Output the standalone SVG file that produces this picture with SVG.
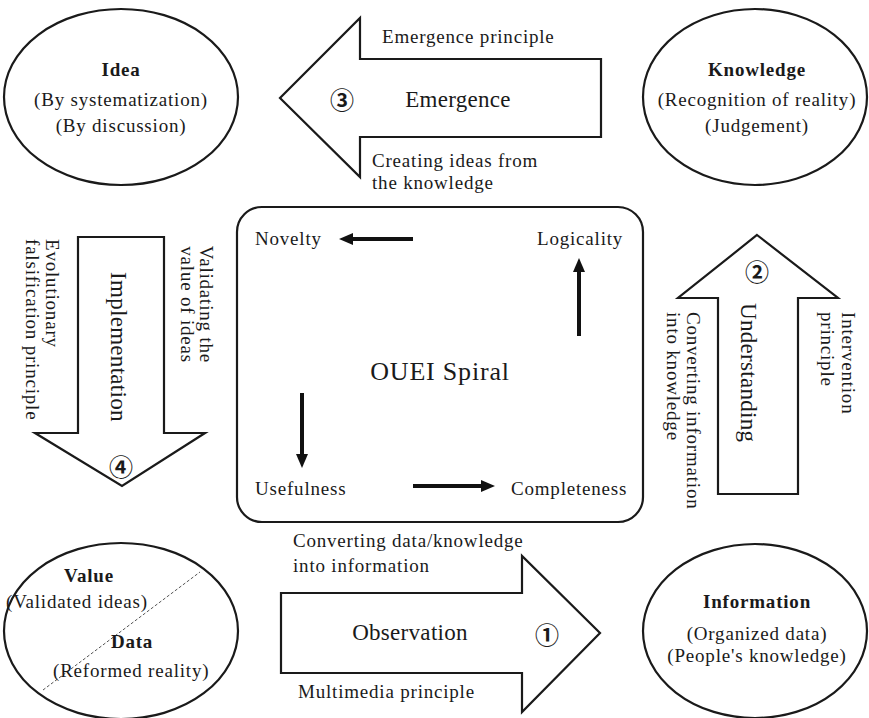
<svg xmlns="http://www.w3.org/2000/svg" width="869" height="718" viewBox="0 0 869 718">
  <style>
    .t { font-family: "Liberation Serif", "Times New Roman", serif; font-size: 19px; letter-spacing: 0.8px; fill: #1a1a1a; }
    .b { font-weight: bold; }
    .m { font-size: 23px; letter-spacing: 0.3px; }
    .big { font-size: 26px; letter-spacing: 0.8px; }
    .c { text-anchor: middle; }
    .e { text-anchor: end; }
    .n { font-family: "Noto Sans CJK JP", "DejaVu Sans", sans-serif; font-size: 24px; font-weight: bold; fill: #1a1a1a; text-anchor: middle; dominant-baseline: central; }
    .shape { fill: #ffffff; stroke: #1a1a1a; stroke-width: 2.2; stroke-linejoin: miter; }
    .flow { stroke: #111111; stroke-width: 4; fill: none; marker-end: url(#head); }
  </style>
  <defs>
    <marker id="head" markerUnits="userSpaceOnUse" markerWidth="14" markerHeight="12" refX="1" refY="6" orient="auto">
      <path d="M0,0 L14,6 L0,12 z" fill="#111111"/>
    </marker>
  </defs>

  <rect width="869" height="718" fill="#ffffff"/>

  <!-- Idea -->
  <g id="idea">
    <ellipse class="shape" cx="121" cy="97" rx="117" ry="88"/>
    <text class="t b c" x="121" y="76">Idea</text>
    <text class="t c" x="121" y="106">(By systematization)</text>
    <text class="t c" x="121" y="132">(By discussion)</text>
  </g>

  <!-- Knowledge -->
  <g id="knowledge">
    <ellipse class="shape" cx="755" cy="97" rx="112" ry="88"/>
    <text class="t b c" x="757" y="76">Knowledge</text>
    <text class="t c" x="757" y="106">(Recognition of reality)</text>
    <text class="t c" x="757" y="132">(Judgement)</text>
  </g>

  <!-- Value / Data -->
  <g id="value-data">
    <ellipse class="shape" cx="121" cy="631" rx="117" ry="88"/>
    <line x1="43" y1="690" x2="200" y2="572" stroke="#555555" stroke-width="1" stroke-dasharray="3 2"/>
    <text class="t b c" x="89" y="582">Value</text>
    <text class="t" x="6" y="608">(Validated ideas)</text>
    <text class="t b c" x="132" y="648">Data</text>
    <text class="t" x="53" y="677">(Reformed reality)</text>
  </g>

  <!-- Information -->
  <g id="information">
    <ellipse class="shape" cx="755" cy="631" rx="112" ry="87"/>
    <text class="t b c" x="757" y="608">Information</text>
    <text class="t c" x="757" y="640">(Organized data)</text>
    <text class="t c" x="757" y="662">(People's knowledge)</text>
  </g>

  <!-- OUEI spiral box -->
  <g id="spiral">
    <rect class="shape" x="237" y="207" width="406" height="315" rx="25" ry="25"/>
    <text class="t" x="255" y="245">Novelty</text>
    <text class="t" x="537" y="245">Logicality</text>
    <text class="t" x="255" y="495">Usefulness</text>
    <text class="t" x="511" y="495">Completeness</text>
    <text class="t big c" x="440" y="380">OUEI Spiral</text>
  </g>

  <!-- Block arrows between the stages -->
  <g id="observation">
    <polygon class="shape" points="281,593 522,593 522,556 600,633 522,712 522,673 281,673"/>
    <text class="t m c" x="410" y="640">Observation</text>
    <text class="n" x="547" y="633">①</text>
    <text class="t" x="293" y="547">Converting data/knowledge</text>
    <text class="t" x="293" y="572">into information</text>
    <text class="t" x="298" y="698">Multimedia principle</text>
  </g>

  <g id="understanding">
    <polygon class="shape" points="757,235 838,298 798,298 798,494 718,494 718,298 678,298"/>
    <text class="n" x="757" y="270">②</text>
    <text class="t m" transform="translate(741,303) rotate(90)" x="0" y="0">Understanding</text>
    <text class="t" transform="translate(842,312) rotate(90)" x="0" y="0">Intervention</text>
    <text class="t" transform="translate(821,312) rotate(90)" x="0" y="0">principle</text>
    <text class="t" transform="translate(687,312) rotate(90)" x="0" y="0">Converting information</text>
    <text class="t" transform="translate(667,312) rotate(90)" x="0" y="0">into knowledge</text>
  </g>

  <g id="emergence">
    <polygon class="shape" points="601,59 360,59 360,18 280,98 360,177 360,137 601,137"/>
    <text class="n" x="342" y="98">③</text>
    <text class="t m c" x="458" y="107">Emergence</text>
    <text class="t" x="382" y="43">Emergence principle</text>
    <text class="t" x="372" y="167">Creating ideas from</text>
    <text class="t" x="372" y="189">the knowledge</text>
  </g>

  <g id="implementation">
    <polygon class="shape" points="78,237 164,237 164,433 205,433 122,486 35,433 78,433"/>
    <text class="n" x="121" y="465">④</text>
    <text class="t m" transform="translate(111,272) rotate(90)" x="0" y="0">Implementation</text>
    <text class="t e" transform="translate(200,363) rotate(90)" x="0" y="0">Validating the</text>
    <text class="t e" transform="translate(181,363) rotate(90)" x="0" y="0">value of ideas</text>
    <text class="t" transform="translate(46,239) rotate(90)" x="0" y="0">Evolutionary</text>
    <text class="t" transform="translate(26,239) rotate(90)" x="0" y="0">falsification principle</text>
  </g>

  <!-- Spiral connectors -->
  <g id="connectors">
    <line class="flow" x1="413" y1="239" x2="352" y2="239"/>
    <line class="flow" x1="579" y1="336" x2="579" y2="271"/>
    <line class="flow" x1="302" y1="393" x2="302" y2="455"/>
    <line class="flow" x1="413" y1="486" x2="482" y2="486"/>
  </g>
</svg>
